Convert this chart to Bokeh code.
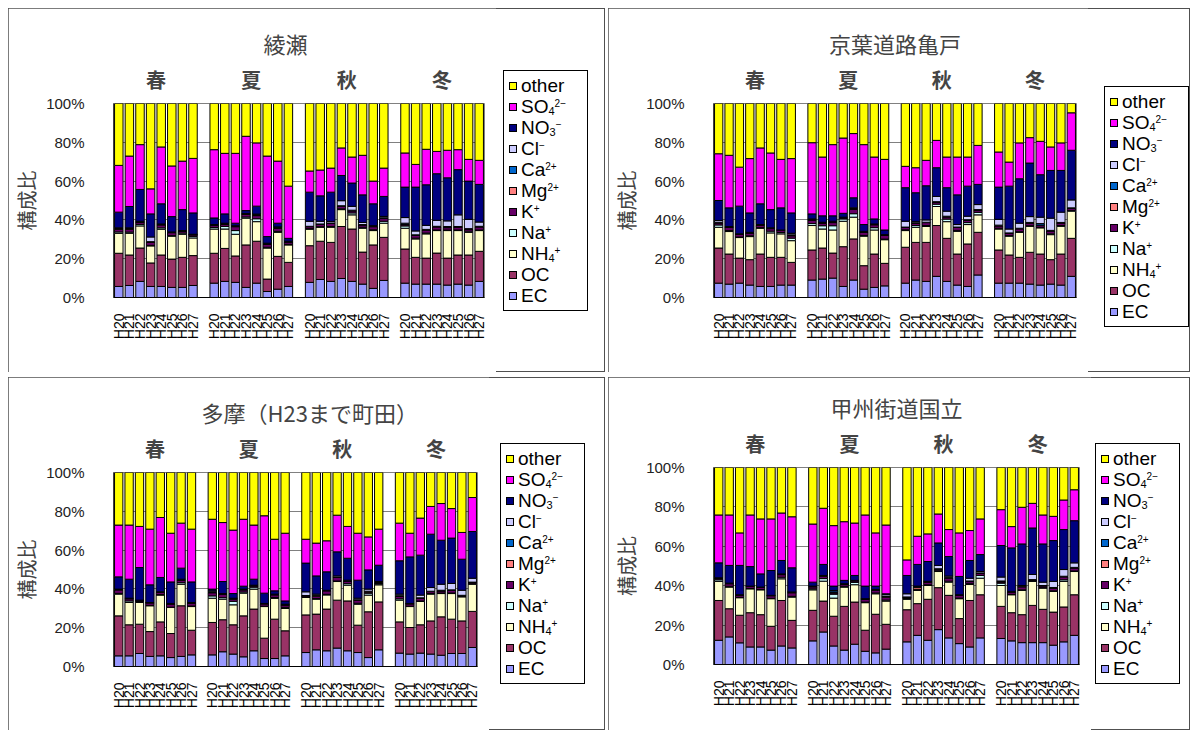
import math
from bokeh.plotting import figure
from bokeh.models import Range1d, FixedTicker, LinearAxis, ColumnDataSource, Div
from bokeh.layouts import row, column
from bokeh.embed import file_html
from bokeh.resources import INLINE

YEARS = ["H20", "H21", "H22", "H23", "H24", "H25", "H26", "H27"]
SEASONS = ["春", "夏", "秋", "冬"]
COMPONENTS = ["EC", "OC", "NH4", "Na", "K", "Mg", "Ca", "Cl", "NO3", "SO4", "other"]
SUB = '<span style="font-size:11px;line-height:10px;vertical-align:-2px">{}</span>'
SUP = '<span style="font-size:10px;line-height:10px;vertical-align:6px">{}</span>'
LABELS = {"EC": "EC", "OC": "OC", "NH4": "NH" + SUB.format("4") + SUP.format("+"),
          "Na": "Na" + SUP.format("+"), "K": "K" + SUP.format("+"),
          "Mg": "Mg" + SUP.format("2+"), "Ca": "Ca" + SUP.format("2+"),
          "Cl": "Cl" + SUP.format("−"), "NO3": "NO" + SUB.format("3") + SUP.format("−"),
          "SO4": "SO" + SUB.format("4") + SUP.format("2−"), "other": "other"}
COLORS = {"EC": "#9999FF", "OC": "#993366", "NH4": "#FFFFCC", "Na": "#CCFFFF", "K": "#660066",
          "Mg": "#FF8080", "Ca": "#0066CC", "Cl": "#CCCCFF", "NO3": "#000080", "SO4": "#FF00FF",
          "other": "#FFFF00"}

# each list: 春 H20-H27, 夏 H20-H27, 秋 H20-H27, 冬 H20-H27 (%)
# ---- 綾瀬 ----
AYASE_EC = [5.7,6.2,8.3,5.7,5.7,5.2,5.2,6.2, 7.4,8.3,7.8,5.2,7.4,3.1,4.3,5.7, 7.8,9.3,8.3,9.8,8.3,6.9,4.7,8.8, 7.4,6.9,6.9,6.9,6.4,6.9,6.4,8.3]
AYASE_OC = [17.1,15.7,17.2,12.1,16.2,14.6,15.5,15.4, 15.4,17.0,13.6,21.9,21.6,6.4,16.9,12.4, 18.9,19.7,20.1,26.8,27.0,16.5,22.4,22.2, 17.6,13.8,13.4,16.0,13.9,15.0,15.5,15.5]
AYASE_NH4 = [10.3,11.2,11.4,8.8,13.3,11.8,11.9,9.1, 12.5,10.0,11.2,13.8,10.1,16.0,12.4,9.0, 8.5,7.2,7.8,8.7,7.3,12.3,7.4,7.3, 10.7,9.5,12.5,11.6,14.2,12.6,11.7,10.7]
AYASE_NA = [0.7,0.6,0.8,0.3,0.7,0.3,0.6,0.8, 0.8,1.3,1.9,0.6,1.5,0.4,0.5,0.3, 0.3,0.3,0.4,0.4,1.0,0.5,0.4,1.0, 1.2,0.4,0.4,0.3,0.3,0.3,0.6,0.3]
AYASE_K = [1.4,1.5,1.0,1.6,1.5,1.5,0.9,0.8, 1.0,1.0,2.0,1.3,1.6,1.5,1.5,1.2, 1.0,1.2,1.6,1.4,1.0,1.2,1.6,1.4, 0.6,1.4,1.6,1.6,1.2,1.5,1.0,1.6]
AYASE_MG = [0.2,0.2,0.2,0.1,0.2,0.1,0.1,0.1, 0.2,0.3,0.2,0.2,0.3,0.2,0.4,0.1, 0.1,0.1,0.1,0.1,0.2,0.1,0.1,0.2, 0.2,0.1,0.1,0.1,0.1,0.1,0.1,0.1]
AYASE_CA = [0.2,0.2,0.1,0.2,0.1,0.1,0.1,0.1, 0.1,0.2,0.1,0.1,0.2,0.2,0.2,0.1, 0.1,0.1,0.1,0.1,0.2,0.1,0.1,0.2, 0.6,0.2,0.2,0.2,0.5,0.2,0.2,0.2]
AYASE_CL = [0.3,0.3,0.3,2.4,0.2,0.2,0.2,0.1, 0.2,0.2,0.2,0.2,0.3,0.2,0.2,0.2, 2.6,1.4,0.8,2.6,2.0,1.1,0.3,0.7, 2.9,2.0,2.1,3.1,2.9,6.0,4.8,2.2]
AYASE_NO3 = [8.1,11.0,16.4,11.9,10.4,7.9,10.8,11.0, 3.4,4.8,1.3,1.5,4.1,3.4,1.9,1.5, 15.0,13.1,15.1,13.0,12.0,14.2,11.3,10.3, 15.7,22.6,20.9,24.0,22.2,23.3,19.7,19.4]
AYASE_SO4 = [24.1,26.0,23.1,12.9,29.3,26.1,25.0,28.1, 35.2,31.2,36.0,38.3,32.6,41.5,32.0,26.9, 10.9,13.3,12.4,14.2,13.4,20.4,11.7,14.6, 17.6,11.7,18.3,11.5,14.2,10.3,11.2,12.4]
AYASE_OTHER = [31.9,27.1,21.2,44.0,22.4,32.2,29.7,28.3, 23.8,25.7,25.7,16.9,20.3,27.1,29.7,42.6, 34.8,34.3,33.3,22.9,27.6,26.7,40.0,33.3, 25.5,31.4,23.6,24.7,24.1,23.8,28.8,29.3]

# ---- 京葉道路亀戸 ----
KAMEIDO_EC = [7.4,6.9,7.4,6.4,5.7,5.7,6.4,6.4, 9.0,9.5,10.0,5.7,9.0,4.3,5.2,6.0, 7.4,9.0,8.3,10.9,8.3,6.4,5.7,11.6, 7.4,7.4,7.4,6.9,6.4,6.9,6.4,10.9]
KAMEIDO_OC = [18.1,15.5,12.9,13.1,16.7,15.0,14.3,11.7, 15.5,16.0,12.9,20.5,21.2,12.1,17.2,11.6, 18.5,19.4,20.1,26.2,22.2,16.0,21.9,22.0, 17.1,14.5,13.3,16.4,16.0,12.6,16.0,19.6]
KAMEIDO_NH4 = [10.7,11.6,10.6,11.9,13.3,12.6,12.1,11.2, 12.6,9.8,11.9,13.1,11.2,15.2,12.4,12.2, 8.6,7.8,8.2,9.8,8.6,11.7,10.0,9.0, 10.8,9.7,12.9,13.4,13.5,12.9,14.3,14.0]
KAMEIDO_NA = [1.2,0.5,0.3,0.4,0.3,0.9,0.7,1.3, 1.0,1.7,2.2,1.2,1.8,0.4,1.2,0.3, 0.4,0.9,0.5,1.2,1.3,0.5,1.0,1.3, 0.4,0.3,0.3,0.3,0.3,0.4,0.4,0.4]
KAMEIDO_K = [1.0,1.6,1.3,1.4,1.3,1.3,1.0,1.2, 1.6,1.2,1.6,0.5,2.2,1.7,1.5,2.0, 1.2,1.2,1.5,0.9,1.1,1.5,1.2,1.0, 1.2,1.2,1.5,1.3,1.0,1.5,1.3,1.0]
KAMEIDO_MG = [0.2,0.1,0.1,0.1,0.1,0.1,0.1,0.2, 0.3,0.3,0.3,0.2,0.3,0.1,0.1,0.1, 0.1,0.1,0.1,0.2,0.2,0.1,0.1,0.2, 0.1,0.1,0.1,0.1,0.1,0.1,0.1,0.1]
KAMEIDO_CA = [0.2,0.1,0.1,0.1,0.1,0.1,0.1,0.3, 0.2,0.1,0.2,0.1,0.2,0.1,0.1,0.1, 0.1,0.1,0.1,0.2,0.2,0.1,0.2,0.2, 0.3,0.1,0.2,0.3,0.8,0.2,0.2,0.2]
KAMEIDO_CL = [0.9,0.3,0.1,0.2,0.1,0.2,0.1,0.8, 0.3,0.2,0.2,0.1,0.3,0.2,0.2,0.1, 3.0,0.6,1.2,2.7,2.6,1.3,1.8,2.6, 3.0,2.0,2.6,3.0,3.3,6.3,5.3,4.1]
KAMEIDO_NO3 = [10.3,9.6,14.3,10.0,10.7,9.4,11.4,10.5, 2.6,3.3,2.8,2.0,5.2,3.5,2.6,2.4, 17.3,14.9,17.6,14.8,12.1,15.3,15.5,10.4, 16.6,22.1,22.9,27.6,21.9,24.6,21.5,25.6]
KAMEIDO_SO4 = [24.1,27.1,20.1,28.0,28.8,29.2,25.0,28.0, 36.7,30.3,36.7,38.8,33.1,41.2,31.9,36.4, 11.0,12.9,13.1,14.1,15.8,19.5,15.0,20.1, 18.1,12.4,18.5,13.1,17.2,12.1,14.2,19.3]
KAMEIDO_OTHER = [25.9,26.7,32.8,28.4,22.9,25.5,28.8,28.4, 20.2,27.6,21.2,17.8,15.5,21.2,27.6,28.8, 32.4,33.1,29.3,19.0,27.6,27.6,27.6,21.6, 25.0,30.2,20.3,17.6,19.5,22.4,20.3,4.8]

# ---- 多摩（H23まで町田） ----
TAMA_EC = [5.5,5.5,6.7,5.2,5.5,4.6,5.2,6.0, 6.0,7.6,6.4,5.0,8.1,4.1,4.1,5.5, 7.2,8.6,8.1,9.5,8.1,7.2,4.6,8.6, 6.9,6.4,6.9,6.4,5.8,6.7,6.7,9.8]
TAMA_OC = [20.6,16.0,15.1,12.8,17.5,12.4,26.1,12.7, 16.7,16.5,15.1,21.1,21.5,10.5,20.3,12.9, 19.4,18.4,21.5,24.7,25.7,14.1,23.6,24.7, 16.1,13.7,14.6,17.1,19.8,17.7,16.8,18.6]
TAMA_NH4 = [11.2,11.5,11.2,13.3,13.8,13.4,11.1,12.2, 12.5,10.6,10.3,11.7,10.3,16.3,10.7,11.5, 9.0,7.7,7.3,9.6,8.1,10.8,8.6,8.8, 11.2,10.8,12.0,13.8,12.0,13.2,12.4,14.0]
TAMA_NA = [0.4,0.8,0.6,0.2,0.3,0.2,0.8,0.3, 1.2,0.8,1.8,0.6,1.0,0.2,0.5,0.6, 0.2,0.3,0.3,0.3,0.8,0.5,1.0,0.5, 0.7,0.2,0.3,0.3,0.3,0.3,0.3,0.3]
TAMA_K = [1.8,1.1,0.3,1.3,1.1,1.6,1.2,1.5, 1.6,1.6,1.1,1.1,0.6,1.2,1.3,1.2, 0.6,1.2,1.8,1.8,1.2,1.6,0.5,0.4, 1.2,1.2,1.4,1.0,1.0,1.3,0.3,0.6]
TAMA_MG = [0.1,0.1,0.1,0.1,0.1,0.1,0.2,0.1, 0.3,0.2,0.2,0.1,0.2,0.1,0.2,0.1, 0.1,0.4,0.1,0.1,0.1,0.1,0.3,0.2, 0.2,0.1,0.1,0.1,0.2,0.1,0.1,0.1]
TAMA_CA = [0.1,0.1,0.1,0.05,0.1,0.1,0.1,0.1, 0.2,0.1,0.1,0.1,0.1,0.05,0.1,0.1, 0.1,0.1,0.1,0.1,0.1,0.1,0.2,0.1, 0.2,0.05,0.1,0.1,0.2,0.2,0.1,0.1]
TAMA_CL = [0.2,0.1,0.1,0.05,0.1,0.1,0.3,0.1, 0.5,0.2,0.2,0.2,0.1,0.05,0.1,0.2, 1.9,0.6,0.1,0.6,0.4,0.8,1.1,0.5, 0.8,0.05,1.4,1.9,3.1,3.3,2.6,2.0]
TAMA_NO3 = [6.3,9.8,16.8,9.1,7.4,11.1,5.7,10.6, 0.9,6.2,2.4,1.5,3.1,5.3,1.7,1.7, 14.8,9.4,9.5,12.4,11.3,9.3,9.9,8.4, 17.2,24.0,20.6,27.5,22.7,23.4,16.0,24.1]
TAMA_SO4 = [26.7,27.9,21.2,28.7,30.9,25.1,23.2,27.2, 36.0,30.4,32.7,34.5,27.9,39.9,26.6,34.9, 12.3,16.9,16.0,18.9,16.4,24.2,17.0,18.6, 19.4,12.2,19.1,14.3,18.9,15.2,13.8,17.5]
TAMA_OTHER = [27.1,27.1,27.8,29.2,23.2,31.3,26.1,29.2, 24.1,25.8,29.7,24.1,27.1,22.3,34.4,31.3, 34.4,36.4,35.2,22.0,27.8,31.3,33.2,29.2, 26.1,31.3,23.5,17.5,16.0,18.6,30.9,12.9]

# ---- 甲州街道国立 ----
KUNI_EC = [12.3,14.0,11.0,8.9,8.9,7.3,9.4,8.4, 12.0,16.5,9.4,7.3,10.3,6.7,5.9,7.8, 11.5,14.8,12.3,17.7,13.5,10.6,8.9,13.5, 13.2,12.0,11.1,11.1,11.1,9.8,11.5,14.8]
KUNI_OC = [20.2,14.3,14.0,17.4,16.4,12.1,23.1,14.0, 15.5,15.7,15.1,22.2,21.4,10.7,19.6,12.6, 16.3,16.1,20.8,21.3,21.6,12.7,23.6,21.9, 16.3,14.3,14.2,18.9,16.9,16.8,17.7,20.6]
KUNI_NH4 = [9.7,11.0,8.9,12.1,12.6,14.0,11.0,11.8, 10.4,10.1,9.2,9.8,8.8,14.0,10.4,11.8, 5.3,6.7,7.0,8.2,6.7,10.1,8.1,8.4, 10.6,9.1,12.3,12.2,10.8,10.5,13.0,11.8]
KUNI_NA = [0.8,0.4,0.2,0.2,0.2,0.2,0.8,0.4, 0.5,1.3,2.0,0.4,1.2,0.3,0.4,0.5, 0.4,0.3,0.4,0.4,0.5,0.3,0.6,1.4, 1.2,0.2,0.3,0.3,0.2,0.3,0.8,0.3]
KUNI_K = [0.6,1.3,1.1,1.0,1.0,1.3,1.3,1.8, 1.0,1.2,0.6,1.1,0.7,1.5,1.5,1.5, 0.5,0.3,1.3,0.8,1.6,1.4,1.0,1.0, 0.6,1.2,1.5,0.4,0.9,1.4,1.5,1.5]
KUNI_MG = [0.2,0.1,0.1,0.1,0.1,0.1,0.2,0.2, 0.2,0.2,0.3,0.1,0.2,0.1,0.1,0.2, 0.1,1.0,0.1,0.1,0.2,0.1,0.1,0.2, 0.2,0.1,0.2,0.1,0.1,0.1,0.1,0.1]
KUNI_CA = [0.1,0.1,0.05,0.05,0.05,0.05,0.1,0.1, 0.1,0.1,0.8,0.05,0.05,0.05,0.1,0.1, 0.2,0.3,0.2,0.1,0.2,0.1,0.1,0.1, 0.3,0.1,0.1,0.1,0.1,0.2,0.2,0.2]
KUNI_CL = [0.1,0.1,0.05,0.05,0.05,0.05,0.1,0.1, 0.1,0.1,0.2,0.05,0.05,0.05,0.1,0.9, 1.6,0.3,0.1,1.7,0.6,0.1,1.4,0.7, 2.0,0.1,0.4,2.6,1.7,3.1,3.4,2.3]
KUNI_NO3 = [7.6,9.0,14.9,9.9,6.7,12.6,6.8,12.3, 2.0,5.6,2.2,1.7,2.5,6.4,1.7,0.5, 9.3,11.0,10.1,11.4,9.9,9.3,9.0,8.6, 16.0,22.1,21.1,23.6,19.4,20.7,20.3,21.4]
KUNI_SO4 = [24.3,25.6,16.5,26.2,27.9,26.2,24.1,25.9, 29.5,28.5,30.7,29.8,26.6,36.1,27.0,34.9, 7.9,14.3,14.0,14.7,13.7,22.1,15.2,18.1, 18.2,10.8,18.6,12.5,14.7,12.3,15.0,15.7]
KUNI_OTHER = [24.1,24.1,33.2,24.1,26.1,26.1,23.1,25.0, 28.7,20.7,29.5,27.5,28.2,24.1,33.2,29.2, 46.9,34.9,33.7,23.6,31.5,33.2,32.0,26.1, 21.4,30.0,20.2,18.2,24.1,24.8,16.5,11.3]

PANELS = [
    ("綾瀬", [AYASE_EC, AYASE_OC, AYASE_NH4, AYASE_NA, AYASE_K, AYASE_MG, AYASE_CA, AYASE_CL, AYASE_NO3, AYASE_SO4, AYASE_OTHER]),
    ("京葉道路亀戸", [KAMEIDO_EC, KAMEIDO_OC, KAMEIDO_NH4, KAMEIDO_NA, KAMEIDO_K, KAMEIDO_MG, KAMEIDO_CA, KAMEIDO_CL, KAMEIDO_NO3, KAMEIDO_SO4, KAMEIDO_OTHER]),
    ("多摩（H23まで町田）", [TAMA_EC, TAMA_OC, TAMA_NH4, TAMA_NA, TAMA_K, TAMA_MG, TAMA_CA, TAMA_CL, TAMA_NO3, TAMA_SO4, TAMA_OTHER]),
    ("甲州街道国立", [KUNI_EC, KUNI_OC, KUNI_NH4, KUNI_NA, KUNI_K, KUNI_MG, KUNI_CA, KUNI_CL, KUNI_NO3, KUNI_SO4, KUNI_OTHER]),
]

CJK = "Noto Sans CJK JP"
LATIN = "Liberation Sans"


def make_main(title, series, width, height, bl, br, bt, bb, title_off):
    p = figure(width=width, height=height, output_backend="svg", toolbar_location=None, tools="",
               x_range=Range1d(0, 70), y_range=Range1d(0, 100),
               min_border_left=bl, min_border_right=br, min_border_top=bt, min_border_bottom=bb)
    # slot layout: 8 bars + 1 gap per season (integer positions, 2 units per slot)
    xs = [2 * (g * 9 + i) + 1 for g in range(4) for i in range(8)]
    totals = [sum(s[k] for s in series) for k in range(32)]
    data = {"x": xs}
    for c, s in zip(COMPONENTS, series):
        data[c] = [100.0 * s[k] / totals[k] for k in range(32)]
    p.vbar_stack(COMPONENTS, x="x", width=1.6, source=ColumnDataSource(data),
                 fill_color=[COLORS[c] for c in COMPONENTS],
                 line_color="black", line_width=1)

    p.title.text = title
    if title_off is None:
        p.title.align = "center"
    else:
        p.title.align = "left"
        p.title.offset = title_off
    p.title.text_font = CJK
    p.title.text_font_size = "22px"
    p.title.text_font_style = "normal"
    p.title.standoff = 6

    p.background_fill_color = "white"
    p.border_fill_color = "white"
    p.outline_line_color = "#808080"
    p.xgrid.visible = False
    p.ygrid.grid_line_color = "#808080"
    p.ygrid.grid_line_width = 1

    xa = p.xaxis[0]
    xa.ticker = FixedTicker(ticks=xs)
    xa.major_label_overrides = {x: YEARS[k % 8] for k, x in enumerate(xs)}
    xa.major_label_orientation = math.pi / 2
    xa.major_label_text_font = LATIN
    xa.major_label_text_font_size = "14px"
    xa.major_label_text_color = "black"
    xa.major_label_standoff = 10
    xa.major_tick_line_color = None
    xa.minor_tick_line_color = None
    xa.axis_line_color = "black"

    ya = p.yaxis[0]
    ya.ticker = FixedTicker(ticks=[0, 20, 40, 60, 80, 100])
    ya.major_label_overrides = {v: f"{v}%" for v in [0, 20, 40, 60, 80, 100]}
    ya.major_label_text_font = LATIN
    ya.major_label_text_font_size = "15px"
    ya.major_label_text_color = "#222222"
    ya.major_label_standoff = 23
    ya.major_tick_line_color = None
    ya.minor_tick_line_color = None
    ya.axis_line_color = "#404040"
    ya.axis_label = "構成比"
    ya.axis_label_text_font = CJK
    ya.axis_label_text_font_size = "20px"
    ya.axis_label_text_font_style = "normal"
    ya.axis_label_standoff = 2

    season_ticks = [2 * (g * 9) + 8 for g in range(4)]
    sa = LinearAxis(ticker=FixedTicker(ticks=season_ticks),
                    major_label_overrides={t: SEASONS[g] for g, t in enumerate(season_ticks)},
                    axis_line_color=None, major_tick_line_color=None, minor_tick_line_color=None,
                    major_label_text_font=CJK, major_label_text_font_size="20px",
                    major_label_text_font_style="bold", major_label_standoff=4)
    p.add_layout(sa, "above")
    return p


def make_legend(width, height, off_x, off_y):
    rows = []
    for c in COMPONENTS[::-1]:
        rows.append(
            '<div style="display:flex;align-items:center;height:21px;white-space:nowrap;overflow:visible;">'
            f'<span style="display:inline-block;width:8px;height:8px;border:1px solid #000;'
            f'background:{COLORS[c]};margin-right:4px;flex:none;"></span>'
            f'<span style="line-height:19px;">{LABELS[c]}</span></div>'
        )
    html = (
        f'<div style="margin-left:{off_x}px;margin-top:{off_y}px;width:85px;box-sizing:border-box;'
        'border:1px solid #000;background:#fff;padding:4px 0 4px 5px;'
        f"font-family:'{LATIN}',Arial,sans-serif;font-size:19px;color:#000;\">"
        + "".join(rows) + "</div>"
    )
    return Div(text=html, width=width, height=height, margin=0)


BOX = {"outline": "1px solid #505050", "outline-offset": "-1px"}

# (main width, height, bl, br, bt, bb, title offset, legend width, legend x offset, legend y offset)
geo = [
    (488, 364, 105, 12, 95, 75, 150, 109, 7, 62),
    (480, 364, 105, 12, 95, 75, None, 102, 16, 78),
    (481, 353, 105, 12, 95, 64, 88, 116, 11, 66),
    (483, 353, 105, 12, 90, 66, None, 99, 4, 66),
]
panels = []
for (t, s), (mw, h, bl, br, bt, bb, toff, lw, lx, ly) in zip(PANELS, geo):
    m = make_main(t, s, mw, h, bl, br, bt, bb, toff)
    lf = make_legend(lw, h, lx, ly)
    panels.append(row(m, lf, spacing=0, styles=BOX))

layout = column(row(panels[0], panels[1], spacing=3), row(panels[2], panels[3], spacing=3),
                spacing=5, margin=(8, 0, 0, 8))
open("out.html", "w").write(file_html(layout, INLINE))
